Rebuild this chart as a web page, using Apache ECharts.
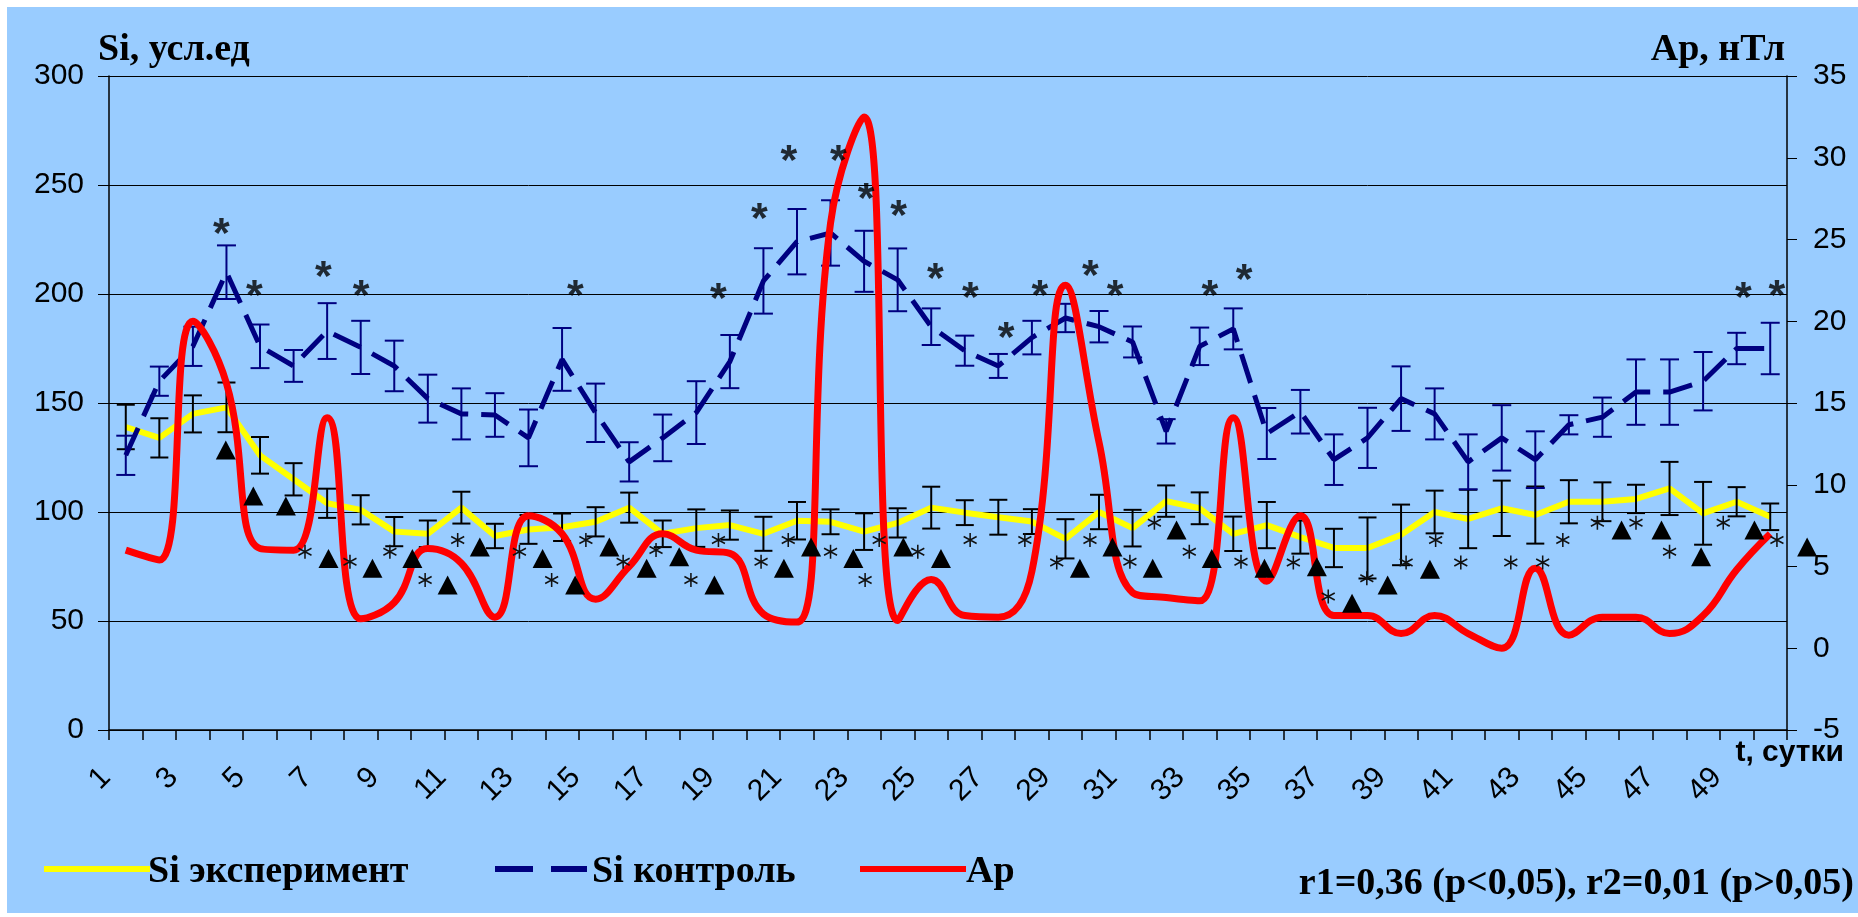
<!DOCTYPE html>
<html>
<head>
<meta charset="utf-8">
<script src="https://cdn.jsdelivr.net/npm/echarts@6/dist/echarts.min.js"></script>
<style>
  html, body { margin: 0; padding: 0; background: #ffffff; }
  #chart { position: absolute; left: 7px; top: 7px; width: 1851px; height: 906px; background: #99ccff; }
</style>
</head>
<body>
<div id="chart"></div>
<script>
// days 1..50
var days = [];
for (var d = 1; d <= 50; d++) days.push(String(d));

var siExp = [139, 134, 145, 148, 126, 115, 104, 101, 91, 90,
             102, 89, 92, 93, 95.5, 102, 90, 92.6, 94, 90,
             96, 95.5, 91, 95, 102, 99.7, 97.6, 95.6, 87.7, 100,
             92.6, 105, 101.7, 90, 94, 88.5, 83.5, 83.5, 89.5, 100,
             96.8, 101.7, 98.6, 104.7, 104.7, 106, 110.8, 99.4, 104.7, 97.8];
var siExpErr = [10.2, 9, 8.5, 11.4, 8.4, 7.4, 6.7, 6.7, 6.7, 6.1,
                7.3, 5.6, 6.6, 6.3, 6.7, 6.9, 6.1, 8.6, 6.7, 7.8,
                8.6, 5.7, 8.4, 6.7, 9.6, 5.7, 8, 5.7, 9, 7.9,
                8.4, 7.2, 7.3, 7.9, 10.6, 7.6, 8.8, 14, 13.9, 9.8,
                13.4, 12.7, 13.1, 9.9, 8.9, 6.5, 12.2, 14.4, 6.7, 6.1];

var siCtl = [126, 160, 176, 210, 176, 167, 183, 175.5, 167, 152,
             145, 144.5, 134, 170, 145.5, 123, 134, 145.6, 169, 206,
             224, 228, 215, 206.5, 185, 174, 167, 180, 189, 185,
             178, 137, 176, 184, 136, 146, 124, 134, 152, 145,
             123, 134, 124, 140, 143.5, 155, 155, 160, 175, 175];
var siCtlErr = [9, 6.7, 9, 12.3, 10, 7.3, 12.8, 12.2, 11.6, 11,
                11.7, 10, 13, 14.4, 13.4, 9, 10.7, 14.4, 12.2, 15,
                15, 15, 14, 14.4, 8.4, 6.9, 5.5, 7.7, 6.5, 7.2,
                7.1, 5.6, 8.6, 9.4, 11.7, 10, 11.6, 13.8, 14.8, 11.7,
                12.6, 15, 13, 4.4, 9, 15, 15, 13.4, 7.2, 11.8];

var ap = [6.0, 5.4, 20.0, 16.2, 6.1, 6.0, 14.1, 1.8, 2.8, 6.1,
          5.2, 1.9, 8.1, 7.0, 3.0, 5.0, 7.0, 6.0, 5.8, 2.1,
          1.6, 26, 32.5, 1.7, 4.2, 2.0, 1.9, 4.7, 22.2, 12.6,
          3.4, 3.1, 2.9, 14.1, 4.1, 8.1, 2.0, 2.0, 0.9, 2.0,
          0.9, 0.0, 4.9, 0.8, 1.9, 1.9, 0.9, 2.0, 4.8, 7.0];

// significance marks: [day, Si value]
var boldStars = [[3.85, 231.7], [4.83, 203], [6.89, 211.8], [8.01, 203], [14.4, 203],
                 [18.66, 201.8], [19.88, 238.5], [20.76, 265.3], [22.23, 265.3], [23.06, 247.7],
                 [24.03, 239.8], [25.12, 211], [26.17, 202], [27.23, 183.8], [28.24, 203],
                 [29.74, 212.5], [30.48, 203], [33.3, 203], [34.32, 210.7], [49.2, 202], [50.2, 203]];
var smallStars = [[6.34, 81.8], [7.68, 77.2], [8.87, 81.8], [9.92, 68.8], [10.89, 87.2],
                  [12.73, 81.8], [13.69, 68.8], [14.71, 87.2], [15.82, 77.2], [16.8, 82.6],
                  [17.84, 68.8], [18.66, 87.2], [19.93, 77.2], [20.74, 87.2], [22.0, 81.8],
                  [23.03, 68.8], [23.45, 87.2], [24.6, 81.8], [26.16, 87.2], [27.79, 87.2],
                  [28.74, 76.8], [29.73, 87.2], [30.92, 77.2], [31.65, 95.1], [32.69, 81.8],
                  [34.23, 77.2], [35.79, 76.8], [36.83, 61.2], [37.98, 69.6], [39.15, 76.8],
                  [40.03, 87.2], [40.78, 76.8], [42.27, 76.8], [43.22, 76.8], [43.82, 87.2],
                  [44.85, 95.1], [46.0, 95.1], [47.0, 81.8], [48.6, 95.1], [50.2, 87.2]];
var triangles = [[3.98, 128.4], [4.8, 107.3], [5.77, 102.8], [7.04, 78.7], [8.35, 74.2],
                 [9.54, 78.7], [10.59, 66.5], [11.55, 84], [13.42, 78.7], [14.39, 66.5],
                 [15.41, 84], [16.52, 74.2], [17.49, 79.5], [18.54, 66.5], [20.61, 74.2],
                 [21.42, 84], [22.68, 78.7], [24.17, 84], [25.29, 78.7], [29.43, 74.2],
                 [30.4, 84], [31.6, 74.2], [32.31, 91.7], [33.36, 78.7], [34.93, 74.2],
                 [36.49, 74.9], [37.54, 58.1], [38.6, 66.5], [39.86, 73.7], [45.57, 91.7],
                 [46.76, 91.7], [47.94, 79.5], [49.53, 91.7], [51.1, 84]];

function errData(vals, errs) {
    var out = [];
    for (var i = 0; i < vals.length; i++) {
        out.push([i, vals[i] - errs[i], vals[i] + errs[i]]);
    }
    return out;
}

function errorBar(color, cap) {
    return function (params, api) {
        var i = api.value(0);
        var lo = api.coord([i, api.value(1)]);
        var hi = api.coord([i, api.value(2)]);
        var h = cap / 2;
        var st = { stroke: color, lineWidth: 2 };
        return {
            type: 'group',
            children: [
                { type: 'line', shape: { x1: lo[0], y1: lo[1], x2: hi[0], y2: hi[1] }, style: st },
                { type: 'line', shape: { x1: lo[0] - h, y1: lo[1], x2: lo[0] + h, y2: lo[1] }, style: st },
                { type: 'line', shape: { x1: hi[0] - h, y1: hi[1], x2: hi[0] + h, y2: hi[1] }, style: st }
            ]
        };
    };
}

var serifBold = { fontFamily: 'Liberation Serif', fontWeight: 'bold', fontSize: 38, fill: '#000' };

// one legend per entry so the icons sit where the reference has them; names drawn as graphic text
function legendIcon(name, icon, left) {
    return {
        data: [{ name: name, icon: icon }],
        left: left,
        top: 854,
        itemWidth: 106,
        itemHeight: 6,
        formatter: function () { return ''; },
        textStyle: { fontSize: 6 }
    };
}

var chart = echarts.init(document.getElementById('chart'));

var option = {
    animation: false,
    grid: { left: 102, right: 71, top: 69, bottom: 183 },
    legend: [
        legendIcon('Si эксперимент', 'rect', 32),
        legendIcon('Si контроль', 'path://M0,0h38v6h-38zM56,0h36v6h-36z', 476),
        legendIcon('Ap', 'rect', 848)
    ],
    xAxis: [
        {
            type: 'category',
            data: days,
            boundaryGap: true,
            axisLine: { lineStyle: { color: '#000', width: 1.5 } },
            axisTick: { show: true, interval: 0, length: 10, lineStyle: { color: '#000', width: 1.5 } },
            axisLabel: {
                interval: 1,
                rotate: 45,
                margin: 23,
                padding: [0, 28, 0, 0],
                fontFamily: 'Liberation Sans',
                fontSize: 30,
                color: '#000'
            },
            splitLine: { show: false }
        },
        { type: 'value', min: 0.5, max: 50.5, show: false }
    ],
    yAxis: [
        {
            type: 'value',
            min: 0, max: 300, interval: 50,
            axisLine: { show: true, lineStyle: { color: '#000', width: 1.5 } },
            axisTick: { show: true, length: 11, lineStyle: { color: '#000' } },
            axisLabel: { margin: 25, fontFamily: 'Liberation Sans', fontSize: 30, color: '#000' },
            splitLine: { show: true, lineStyle: { color: '#000', width: 1 } }
        },
        {
            type: 'value',
            position: 'right',
            min: -5, max: 35, interval: 5,
            axisLine: { show: true, lineStyle: { color: '#000', width: 1.5 } },
            axisTick: { show: true, length: 10, lineStyle: { color: '#000' } },
            axisLabel: { margin: 26, fontFamily: 'Liberation Sans', fontSize: 30, color: '#000' },
            splitLine: { show: false }
        }
    ],
    graphic: [
        { type: 'text', left: 91, top: 24, style: Object.assign({ text: 'Si, усл.ед' }, serifBold) },
        { type: 'text', right: 73, top: 24, style: Object.assign({ text: 'Ap, нТл' }, serifBold) },
        { type: 'text', right: 14, top: 731, style: { text: 't, сутки', fontFamily: 'Liberation Sans', fontWeight: 'bold', fontSize: 30, fill: '#000' } },
        { type: 'text', left: 141, top: 846, style: Object.assign({ text: 'Si эксперимент' }, serifBold) },
        { type: 'text', left: 585, top: 846, style: Object.assign({ text: 'Si контроль' }, serifBold) },
        { type: 'text', left: 959, top: 846, style: Object.assign({ text: 'Ap' }, serifBold) },
        { type: 'text', right: 4, top: 858, style: Object.assign({ text: 'r1=0,36 (p<0,05), r2=0,01 (p>0,05)' }, serifBold) }
    ],
    series: [
        {
            name: 'Si эксперимент',
            type: 'line',
            data: siExp,
            symbol: 'none',
            z: 2,
            itemStyle: { color: '#ffff00' },
            lineStyle: { color: '#ffff00', width: 6 }
        },
        {
            name: 'expErr',
            type: 'custom',
            renderItem: errorBar('#000000', 18),
            encode: { x: 0, y: [1, 2] },
            data: errData(siExp, siExpErr),
            z: 3
        },
        {
            name: 'Si контроль',
            type: 'line',
            data: siCtl,
            symbol: 'none',
            z: 4,
            itemStyle: { color: '#000080' },
            lineStyle: { color: '#000080', width: 5, type: [30, 13] }
        },
        {
            name: 'ctlErr',
            type: 'custom',
            renderItem: errorBar('#000080', 19),
            encode: { x: 0, y: [1, 2] },
            data: errData(siCtl, siCtlErr),
            z: 5
        },
        {
            name: 'Ap',
            type: 'line',
            yAxisIndex: 1,
            data: ap,
            symbol: 'none',
            smooth: 0.45,
            z: 6,
            itemStyle: { color: '#ff0000' },
            lineStyle: { color: '#ff0000', width: 7 }
        },
        {
            name: 'tri',
            type: 'scatter',
            xAxisIndex: 1,
            data: triangles,
            symbol: 'triangle',
            symbolSize: [20, 19],
            clip: false,
            z: 8,
            itemStyle: { color: '#000', opacity: 1 }
        },
        {
            name: 'star',
            type: 'scatter',
            xAxisIndex: 1,
            data: smallStars,
            symbol: 'path://M0,-7L0,7M-6.06,-3.5L6.06,3.5M-6.06,3.5L6.06,-3.5',
            symbolSize: [13, 14],
            z: 8,
            itemStyle: { color: 'rgba(0,0,0,0)', borderColor: '#111', borderWidth: 1.6, opacity: 1 }
        },
        {
            name: 'boldStar',
            type: 'scatter',
            xAxisIndex: 1,
            data: boldStars,
            symbol: 'circle',
            symbolSize: 1,
            z: 9,
            itemStyle: { color: 'rgba(0,0,0,0)' },
            label: {
                show: true,
                position: 'inside',
                formatter: '*',
                offset: [0, 10],
                fontFamily: 'Liberation Sans',
                fontWeight: 'bold',
                fontSize: 43,
                color: '#000'
            }
        }
    ]
};

chart.setOption(option);
</script>
</body>
</html>
